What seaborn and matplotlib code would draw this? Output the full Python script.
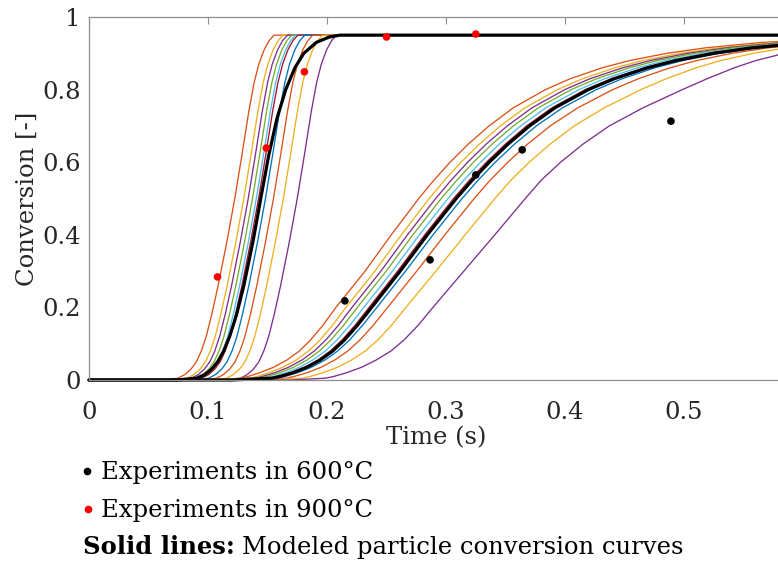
import matplotlib
matplotlib.use("Agg")
import matplotlib.pyplot as plt
from matplotlib.lines import Line2D
import pandas as pd
import seaborn as sns

# ---------------- experimental points ----------------
exp600_time = [0.215, 0.2866, 0.325, 0.364, 0.489]
exp600_conv = [0.218, 0.331, 0.565, 0.634, 0.713]
exp900_time = [0.108, 0.149, 0.181, 0.250, 0.325]
exp900_conv = [0.284, 0.639, 0.849, 0.945, 0.953]

# ---------------- modeled curves ----------------
# every curve is tabulated as the time (s) at which it reaches the listed conversion levels
curve_names = ["run 1", "run 2", "run 3", "run 4", "run 5", "run 6",
               "run 7", "run 8", "run 9", "run 10"]
curve_colors = ["#D95319", "#EDB120", "#7E2F8E", "#77AC30", "#4DBEEE", "#A2142F",
                "#0072BD", "#D95319", "#EDB120", "#7E2F8E"]

# 900 °C
levels_900 = [0.0, 0.0, 0.005, 0.015, 0.03, 0.05, 0.08, 0.12, 0.18, 0.26, 0.38,
              0.5, 0.62, 0.74, 0.82, 0.87, 0.91, 0.935, 0.95, 0.95]
times_900 = {
    "run 1":  [0.0, 0.0625, 0.0748, 0.0805, 0.0857, 0.0902, 0.0944, 0.0985, 0.1031, 0.1085, 0.1158, 0.1225, 0.1285, 0.1343, 0.1388, 0.1427, 0.1472, 0.1514, 0.1555, 0.60],
    "run 2":  [0.0, 0.0701, 0.0824, 0.0881, 0.0933, 0.0978, 0.1020, 0.1061, 0.1107, 0.1161, 0.1234, 0.1301, 0.1361, 0.1419, 0.1464, 0.1503, 0.1548, 0.1590, 0.1631, 0.60],
    "run 3":  [0.0, 0.0738, 0.0861, 0.0918, 0.0970, 0.1015, 0.1057, 0.1098, 0.1144, 0.1198, 0.1271, 0.1338, 0.1398, 0.1456, 0.1501, 0.1540, 0.1585, 0.1627, 0.1668, 0.60],
    "run 4":  [0.0, 0.0774, 0.0897, 0.0954, 0.1006, 0.1051, 0.1093, 0.1134, 0.1180, 0.1234, 0.1307, 0.1374, 0.1434, 0.1492, 0.1537, 0.1576, 0.1621, 0.1663, 0.1704, 0.60],
    "run 5":  [0.0, 0.0806, 0.0929, 0.0986, 0.1038, 0.1083, 0.1125, 0.1166, 0.1212, 0.1266, 0.1339, 0.1406, 0.1466, 0.1524, 0.1569, 0.1608, 0.1653, 0.1695, 0.1736, 0.60],
    "run 6":  [0.0, 0.0825, 0.0948, 0.1005, 0.1057, 0.1102, 0.1144, 0.1185, 0.1231, 0.1285, 0.1358, 0.1425, 0.1485, 0.1543, 0.1588, 0.1627, 0.1672, 0.1714, 0.1755, 0.60],
    "run 7":  [0.0, 0.0883, 0.1006, 0.1063, 0.1115, 0.1160, 0.1202, 0.1243, 0.1289, 0.1343, 0.1416, 0.1483, 0.1543, 0.1601, 0.1646, 0.1685, 0.1730, 0.1772, 0.1813, 0.60],
    "run 8":  [0.0, 0.0950, 0.1073, 0.1130, 0.1182, 0.1227, 0.1269, 0.1310, 0.1356, 0.1410, 0.1483, 0.1550, 0.1610, 0.1668, 0.1713, 0.1752, 0.1797, 0.1839, 0.1880, 0.60],
    "run 9":  [0.0, 0.1033, 0.1156, 0.1213, 0.1265, 0.1310, 0.1352, 0.1393, 0.1439, 0.1493, 0.1566, 0.1633, 0.1693, 0.1751, 0.1796, 0.1835, 0.1880, 0.1922, 0.1963, 0.60],
    "run 10": [0.0, 0.1150, 0.1273, 0.1330, 0.1382, 0.1427, 0.1469, 0.1510, 0.1556, 0.1610, 0.1683, 0.1750, 0.1810, 0.1868, 0.1913, 0.1952, 0.1997, 0.2039, 0.2080, 0.60],
}
levels_900_best = [0.0, 0.0, 0.005, 0.015, 0.03, 0.05, 0.08, 0.12, 0.18, 0.26, 0.38, 0.45,
                   0.5, 0.62, 0.72, 0.8, 0.86, 0.9, 0.93, 0.945, 0.95, 0.95]
times_900_best = [0.0, 0.074, 0.0905, 0.0975, 0.1031, 0.1081, 0.1132, 0.1182, 0.1240, 0.1301, 0.1377, 0.1416,
                  0.1443, 0.1511, 0.1579, 0.1653, 0.1730, 0.1805, 0.1910, 0.2020, 0.2110, 0.60]

# 600 °C
levels_600 = [0.0, 0.0, 0.005, 0.01, 0.02, 0.035, 0.055, 0.08, 0.11, 0.15, 0.2, 0.3, 0.4,
              0.5, 0.55, 0.6, 0.65, 0.7, 0.75, 0.8, 0.83, 0.86, 0.88, 0.9, 0.915, 0.93, 0.945]
times_600 = {
    "run 1":  [0.0, 0.1000, 0.1279, 0.1339, 0.1434, 0.1550, 0.1663, 0.1768, 0.1861, 0.1964, 0.2075, 0.2320, 0.2540,
               0.2771, 0.2897, 0.3034, 0.3187, 0.3362, 0.3566, 0.3836, 0.4044, 0.4312, 0.4542, 0.4857, 0.5180, 0.5658, 0.6460],
    "run 2":  [0.0, 0.1056, 0.1352, 0.1415, 0.1512, 0.1628, 0.1741, 0.1846, 0.1941, 0.2045, 0.2159, 0.2403, 0.2625,
               0.2859, 0.2987, 0.3126, 0.3281, 0.3457, 0.3664, 0.3937, 0.4148, 0.4418, 0.4651, 0.4966, 0.5289, 0.5770, 0.6600],
    "run 3":  [0.0, 0.1090, 0.1396, 0.1460, 0.1560, 0.1676, 0.1789, 0.1894, 0.1989, 0.2094, 0.2210, 0.2453, 0.2676,
               0.2913, 0.3042, 0.3182, 0.3338, 0.3515, 0.3723, 0.3998, 0.4210, 0.4483, 0.4717, 0.5032, 0.5355, 0.5838, 0.6685],
    "run 4":  [0.0, 0.1120, 0.1435, 0.1501, 0.1602, 0.1718, 0.1831, 0.1936, 0.2032, 0.2138, 0.2255, 0.2497, 0.2722,
               0.2960, 0.3090, 0.3231, 0.3388, 0.3566, 0.3776, 0.4052, 0.4266, 0.4540, 0.4776, 0.5091, 0.5414, 0.5898, 0.6760],
    "run 5":  [0.0, 0.1156, 0.1482, 0.1550, 0.1652, 0.1768, 0.1881, 0.1986, 0.2083, 0.2190, 0.2309, 0.2550, 0.2776,
               0.3017, 0.3148, 0.3291, 0.3448, 0.3627, 0.3839, 0.4117, 0.4333, 0.4608, 0.4846, 0.5161, 0.5484, 0.5970, 0.6850],
    "run 6":  [0.0, 0.1186, 0.1521, 0.1590, 0.1694, 0.1810, 0.1923, 0.2028, 0.2126, 0.2234, 0.2354, 0.2594, 0.2822,
               0.3064, 0.3196, 0.3340, 0.3499, 0.3678, 0.3891, 0.4171, 0.4388, 0.4665, 0.4905, 0.5220, 0.5543, 0.6030, 0.6925],
    "run 7":  [0.0, 0.1243, 0.1577, 0.1647, 0.1752, 0.1869, 0.1983, 0.2090, 0.2189, 0.2297, 0.2419, 0.2660, 0.2891,
               0.3135, 0.3268, 0.3414, 0.3576, 0.3759, 0.3979, 0.4263, 0.4480, 0.4754, 0.4989, 0.5298, 0.5614, 0.6096, 0.6994],
    "run 8":  [0.0, 0.1330, 0.1656, 0.1726, 0.1831, 0.1950, 0.2065, 0.2175, 0.2276, 0.2387, 0.2509, 0.2754, 0.2990,
               0.3237, 0.3370, 0.3519, 0.3686, 0.3876, 0.4108, 0.4401, 0.4617, 0.4882, 0.5106, 0.5403, 0.5705, 0.6175, 0.7064],
    "run 9":  [0.0, 0.1480, 0.1791, 0.1861, 0.1966, 0.2088, 0.2206, 0.2322, 0.2426, 0.2540, 0.2663, 0.2915, 0.3161,
               0.3411, 0.3544, 0.3699, 0.3875, 0.4077, 0.4330, 0.4638, 0.4851, 0.5101, 0.5307, 0.5583, 0.5861, 0.6310, 0.7184],
    "run 10": [0.0, 0.1700, 0.1989, 0.2059, 0.2164, 0.2290, 0.2413, 0.2538, 0.2646, 0.2764, 0.2890, 0.3150, 0.3410,
               0.3666, 0.3799, 0.3963, 0.4152, 0.4372, 0.4656, 0.4986, 0.5194, 0.5422, 0.5602, 0.5847, 0.6090, 0.6508, 0.7360],
}
times_600_best = [0.0, 0.1200, 0.1539, 0.1609, 0.1714, 0.1830, 0.1943, 0.2048, 0.2146, 0.2254, 0.2375, 0.2615, 0.2843,
                  0.3086, 0.3219, 0.3363, 0.3522, 0.3702, 0.3916, 0.4196, 0.4414, 0.4692, 0.4932, 0.5247, 0.5570, 0.6058, 0.6960]

x_ticks = [0, 0.1, 0.2, 0.3, 0.4, 0.5]
x_ticklabels = ["0", "0.1", "0.2", "0.3", "0.4", "0.5"]
y_ticks = [0, 0.2, 0.4, 0.6, 0.8, 1.0]
y_ticklabels = ["0", "0.2", "0.4", "0.6", "0.8", "1"]


def long_table(levels, curves):
    rows = []
    for name, times in curves.items():
        for step, (t, c) in enumerate(zip(times, levels)):
            rows.append((name, step, t, c))
    return pd.DataFrame(rows, columns=["curve", "step", "time", "conversion"])


sns.set_style("white")
plt.rcParams["font.family"] = ["DejaVu Serif"]
plt.rcParams["font.size"] = 17.5
text_color = "#262626"
frame_color = "#8f8f8f"

W, H = 778, 566
fig = plt.figure(figsize=(W / 100, H / 100), dpi=100)
ax = fig.add_axes([89 / W, 186 / H, 695 / W, 363 / H])

palette = dict(zip(curve_names, curve_colors))
for levels, curves in ((levels_900, times_900), (levels_600, times_600)):
    sns.lineplot(data=long_table(levels, curves), x="time", y="conversion",
                 hue="curve", hue_order=curve_names, palette=palette,
                 estimator=None, sort=False, linewidth=0.95, legend=False,
                 ax=ax, clip_on=False)

sns.lineplot(x=times_900_best, y=levels_900_best, color="black", linewidth=2.3,
             estimator=None, sort=False, ax=ax, clip_on=False)
sns.lineplot(x=times_600_best, y=levels_600, color="black", linewidth=2.3,
             estimator=None, sort=False, ax=ax, clip_on=False)

sns.scatterplot(x=exp600_time, y=exp600_conv, color="black", marker="o", s=30,
                edgecolor="none", ax=ax, zorder=6)
sns.scatterplot(x=exp900_time, y=exp900_conv, color="red", marker="o", s=30,
                edgecolor="none", ax=ax, zorder=6)

ax.set_xlim(0, 0.584)
ax.set_ylim(0, 1)
ax.set_xticks(x_ticks)
ax.set_xticklabels(x_ticklabels)
ax.set_yticks(y_ticks)
ax.set_yticklabels(y_ticklabels)
ax.tick_params(direction="in", length=5, width=0.8, color=frame_color,
               labelcolor=text_color, top=True, right=False, labelsize=17.5)
ax.tick_params(axis="x", pad=15)
ax.tick_params(axis="y", pad=6)
for side in ax.spines.values():
    side.set_visible(True)
    side.set_color(frame_color)
    side.set_linewidth(0.9)
ax.set_xlabel("Time (s)", color=text_color, labelpad=2)
ax.set_ylabel("Conversion [-]", color=text_color, labelpad=2)

# explanatory key below the axes
fig.add_artist(Line2D([87 / W], [1 - 471 / H], marker="o", markersize=4.5,
                      color="black", linestyle="none", transform=fig.transFigure))
fig.add_artist(Line2D([88 / W], [1 - 509 / H], marker="o", markersize=4.5,
                      color="red", linestyle="none", transform=fig.transFigure))
fig.text(101 / W, 1 - 479 / H, "Experiments in 600°C", va="baseline", ha="left", color="black")
fig.text(101 / W, 1 - 517 / H, "Experiments in 900°C", va="baseline", ha="left", color="black")
bold_part = fig.text(83 / W, 1 - 554 / H, "Solid lines:", va="baseline", ha="left",
                     color="black", fontweight="bold")
renderer = fig.canvas.get_renderer()
bb = bold_part.get_window_extent(renderer=renderer)
fig.text((bb.x1 + 7) / W, 1 - 554 / H, "Modeled particle conversion curves",
         va="baseline", ha="left", color="black")

fig.savefig("out.png", dpi=100)
